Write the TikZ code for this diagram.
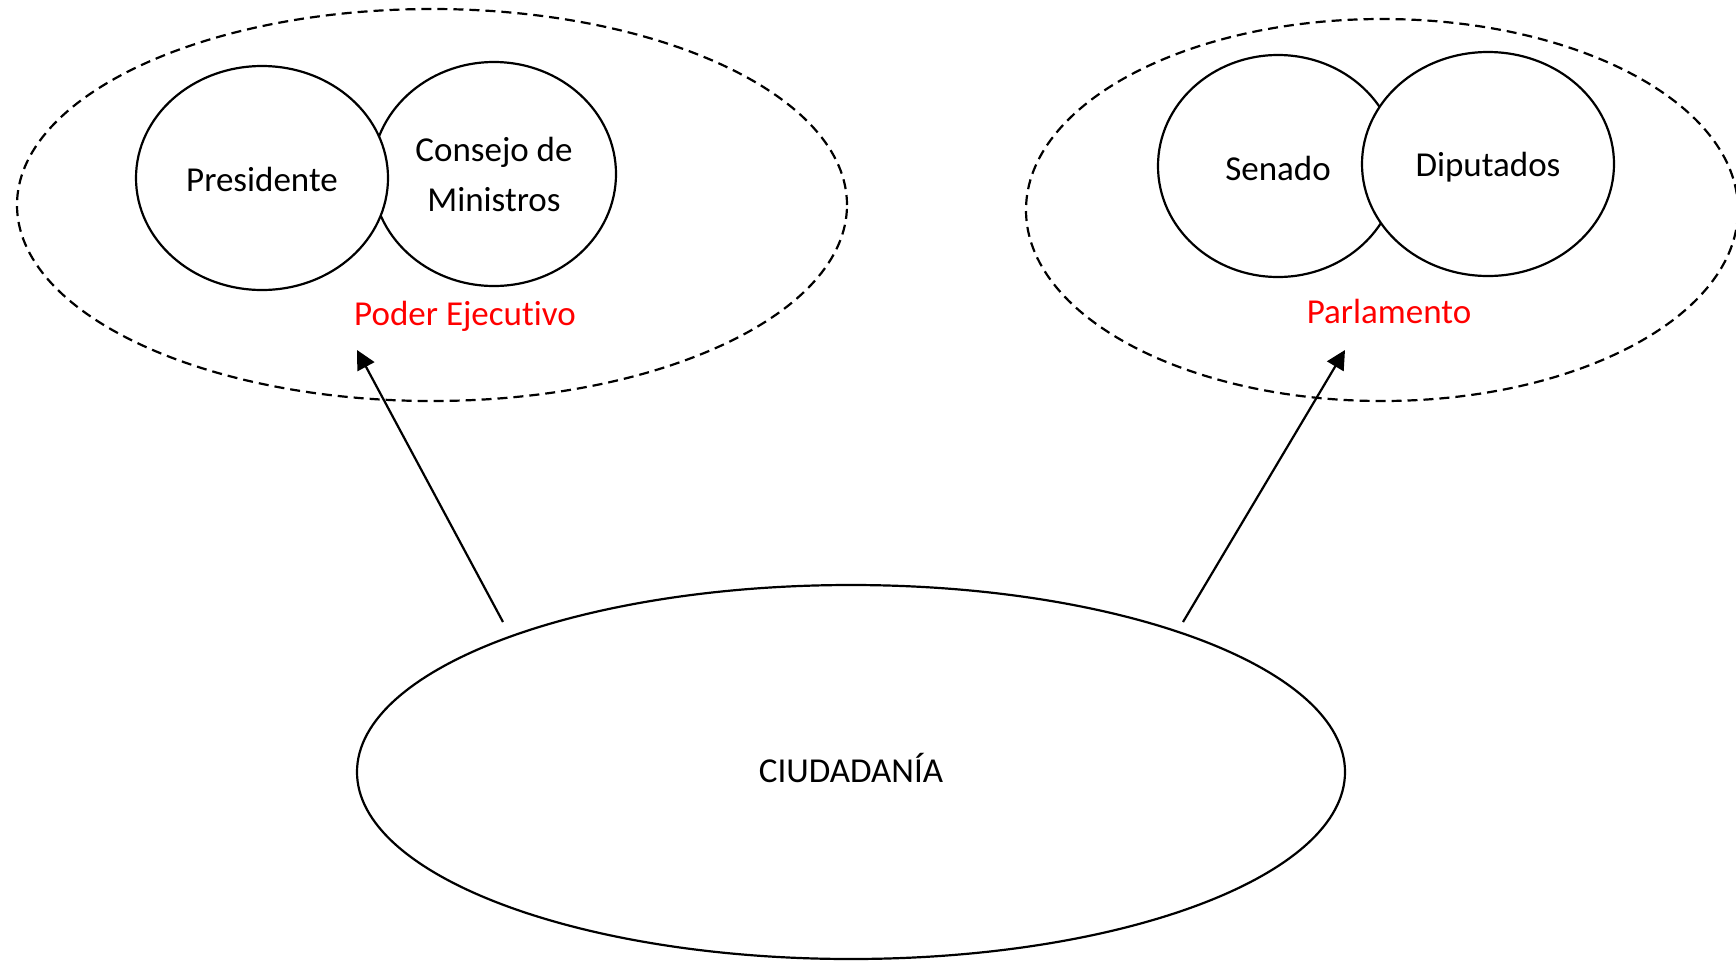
\documentclass[tikz,border=0pt]{standalone}
\usepackage{fontspec}
\setmainfont{Carlito}[Ligatures=NoCommon]
\usetikzlibrary{shapes.geometric,arrows.meta,positioning}

\begin{document}
\begin{tikzpicture}[x=0.5pt,y=-0.5pt,
  font=\fontsize{17.5}{25}\selectfont,
  circ/.style={ellipse,draw,line width=1.1pt,fill=white,inner sep=0pt},
  group/.style={ellipse,draw,line width=1.1pt,dash pattern=on 5pt off 3pt,inner sep=0pt},
  power/.style={text=red},
  vote/.style={line width=1.1pt,-{Triangle[length=9.5pt,width=9.5pt]}}]

\useasboundingbox (0,0) rectangle (1736,960);

% the two powers
\node(E) [group,minimum width=415pt,minimum height=196pt] at (432,205) {};
\node(P) [group,minimum width=356pt,minimum height=191pt] at (1382,210) {};

\node(E-2) [circ,minimum width=122pt,minimum height=112pt,align=center] at (494,174) {Consejo de\\Ministros};
\node(E-1) [circ,minimum width=126pt,minimum height=112pt,text height=14pt] at (262,178) {Presidente};

\node(P-1) [circ,minimum width=120pt,minimum height=111pt,text height=15pt] at (1278,166) {Senado};
\node(P-2) [circ,minimum width=126pt,minimum height=112pt,text height=15pt] at (1488,164) {Diputados};

\node(E-lbl) [power] at (465,316) {Poder Ejecutivo};
\node(P-lbl) [power] at (1389,311) {Parlamento};

% citizens
\node(C) [circ,minimum width=494pt,minimum height=187pt,text depth=4.5pt] at (851,772) {CIUDADANÍA};

\coordinate (C-1) at (503,622);
\coordinate (C-2) at (1183,622);
\coordinate (E-in) at (357,350);
\coordinate (P-in) at (1345,350);

\draw[vote] (C-1) -- (E-in);
\draw[vote] (C-2) -- (P-in);

\end{tikzpicture}
\end{document}
